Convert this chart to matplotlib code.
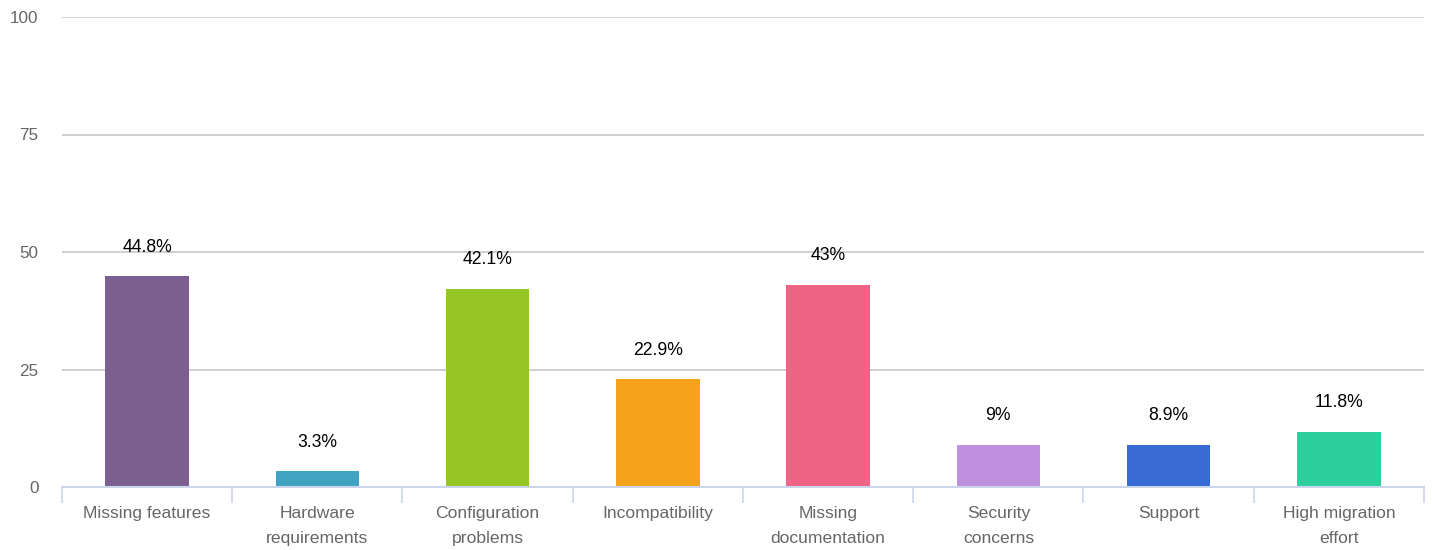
import matplotlib
matplotlib.use("Agg")
import matplotlib.pyplot as plt
import numpy as np

categories = ["Missing features", "Hardware\nrequirements", "Configuration\nproblems",
              "Incompatibility", "Missing\ndocumentation", "Security\nconcerns",
              "Support", "High migration\neffort"]
values = [44.8, 3.3, 42.1, 22.9, 43.0, 9.0, 8.9, 11.8]
labels = ["44.8%", "3.3%", "42.1%", "22.9%", "43%", "9%", "8.9%", "11.8%"]
colors = ["#7B5F91", "#41A3C2", "#95C626", "#F4A31B", "#EF6384", "#BF90E0", "#386BD5", "#2DCF9D"]
yticks = [0, 25, 50, 75, 100]

plt.rcParams['font.family'] = ['Liberation Sans', 'DejaVu Sans']

fig = plt.figure(figsize=(14.33, 5.5), dpi=100)
ax = fig.add_axes([62/1433, 1 - 487/550, (1424-62)/1433, (487-17)/550])

x = np.arange(len(categories))
ax.bar(x, values, width=0.49, color=colors, zorder=3)
for xi, v, lab in zip(x, values, labels):
    ax.annotate(lab, (xi, v), xytext=(0, 15), textcoords="offset points",
                ha="center", va="bottom", fontsize=12.7, color="#000000", zorder=4)

ax.set_xlim(-0.5, len(categories) - 0.5)
ax.set_ylim(0, 100)
ax.set_yticks(yticks)
ax.set_yticklabels([str(t) for t in yticks], color="#666666", fontsize=12.3)
ax.yaxis.grid(True, color="#c8c8c8", linewidth=1.2, zorder=0)
ax.tick_params(axis="y", length=0, pad=17)

ax.set_xticks(x)
ax.set_xticklabels(categories, color="#666666", fontsize=12.6, linespacing=1.8)
ax.tick_params(axis="x", length=0, pad=14)
ax.set_xticks(np.arange(len(categories) + 1) - 0.5, minor=True)
ax.tick_params(axis="x", which="minor", length=11.5, color="#ccd6eb", width=1.2)

for s in ["top", "right", "left"]:
    ax.spines[s].set_visible(False)
ax.spines["bottom"].set_color("#ccd6eb")
ax.spines["bottom"].set_linewidth(1.5)
ax.spines["bottom"].set_zorder(5)

fig.savefig("out.png", dpi=100, facecolor="white")
